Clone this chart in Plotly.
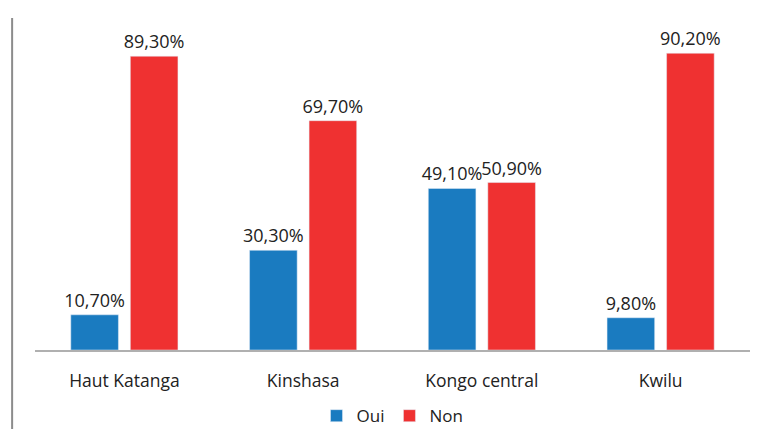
import plotly.graph_objects as go

categories = ["Haut Katanga", "Kinshasa", "Kongo central", "Kwilu"]
oui = [10.7, 30.3, 49.1, 9.8]
non = [89.3, 69.7, 50.9, 90.2]

FONT = "'Open Sans', 'Noto Sans', sans-serif"

fig = go.Figure()
fig.add_trace(go.Bar(
    x=categories, y=oui, name="Oui", marker_color="#1A7BC0",
    texttemplate="%{y:.2f}%", textposition="outside", cliponaxis=False,
    constraintext="none",
    textfont=dict(size=18, color="#222222", family=FONT),
))
fig.add_trace(go.Bar(
    x=categories, y=non, name="Non", marker_color="#EF3131",
    texttemplate="%{y:.2f}%", textposition="outside", cliponaxis=False,
    constraintext="none",
    textfont=dict(size=18, color="#222222", family=FONT),
))

fig.update_layout(
    width=763, height=429,
    margin=dict(l=35, r=13, t=21, b=79, autoexpand=False),
    paper_bgcolor="white", plot_bgcolor="white",
    separators=",.",
    barmode="group", bargap=0.334, bargroupgap=0.2,
    font=dict(family=FONT, size=17, color="#222222"),
    showlegend=True,
    legend=dict(orientation="h", x=0.5, xanchor="center",
                yref="container", y=0.03, yanchor="middle",
                font=dict(size=17, family=FONT, color="#222222"),
                itemwidth=30, traceorder="normal"),
    xaxis=dict(showline=True, linecolor="#B0B0B0", linewidth=1.5, showgrid=False,
               ticks="", ticklabelstandoff=14, automargin=False,
               tickfont=dict(size=17.5, family=FONT, color="#222222")),
    yaxis=dict(range=[0, 100], visible=False, showgrid=False, zeroline=False,
               automargin=False),
)
fig.add_shape(type="line", xref="paper", yref="paper",
              x0=-0.032, x1=-0.032, y0=1.009, y1=-0.25,
              line=dict(color="#8C8C8C", width=2))

fig.write_html("out.html", config={"displayModeBar": False},
               post_script="document.body.style.margin='0';")
